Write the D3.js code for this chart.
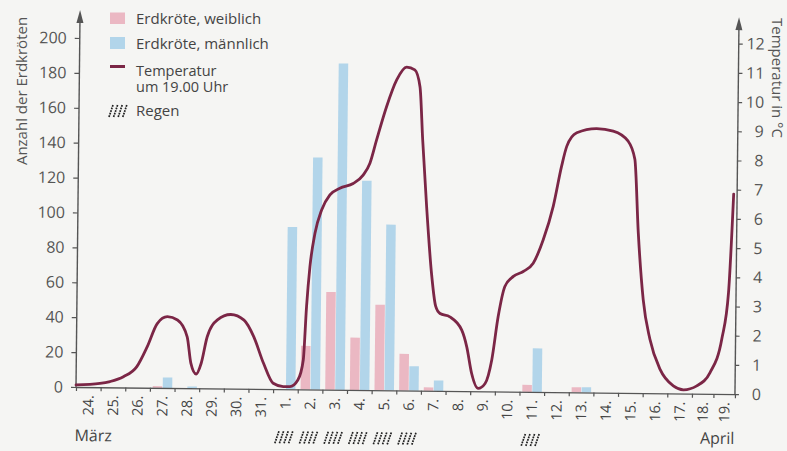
<!DOCTYPE html>
<html lang="de">
<head>
<meta charset="utf-8">
<title>Erdkröten und Temperatur</title>
<script src="https://cdn.jsdelivr.net/npm/d3@7"></script>
<style>
  body { margin: 0; background: #f5f5f3; }
  text { font-family: "Open Sans", "Noto Sans", sans-serif; fill: #444; }
</style>
</head>
<body>
<svg id="chart" width="787" height="451"></svg>
<script>
// days on the x axis (24.-31. März, 1.-19. April)
const days = ["24.","25.","26.","27.","28.","29.","30.","31.",
  "1.","2.","3.","4.","5.","6.","7.","8.","9.","10.","11.","12.","13.","14.","15.","16.","17.","18.","19."];

// number of toads per day
const female = [0,0,0,1,0,0,0,0, 0,25,56,30,49,21,2,0,0,0,4,0,3,0,0,0,0,0,0];
const male   = [0,0,0,6,1,0,0,0, 93,133,187,120,95,14,6,0,0,0,25,0,3,0,0,0,0,0,0];

// days with rain
const rainDays = ["1.","2.","3.","4.","5.","6.","11."];

// temperature curve, position in days from start of 24. and value in °C
const tempPos = [0, 0.97, 1.38, 1.92, 2.46, 2.87, 3.27, 3.68, 4.09, 4.49, 4.65, 4.87, 5.07, 5.3, 5.71,
  6.25, 6.79, 7.19, 7.6, 8.0, 8.41, 8.68, 9.0, 9.21, 9.32, 9.44, 9.63, 9.89, 10.22, 10.62, 11.16,
  11.56, 11.83, 12.09, 12.48, 12.88, 13.28, 13.61, 13.83, 13.96, 14.15, 14.38, 14.56, 14.74, 15.14,
  15.63, 15.84, 16.05, 16.32, 16.6, 16.86, 17.1, 17.36, 17.7, 18.1, 18.5, 18.9, 19.29, 19.61, 19.81,
  20.21, 21.02, 21.69, 22.3, 22.58, 22.75, 22.98, 23.27, 23.69, 24.24, 24.65, 25.22, 25.83, 26.36,
  26.65, 26.84];
const tempVal = [0.07, 0.13, 0.2, 0.37, 0.72, 1.4, 2.2, 2.44, 2.33, 1.76, 0.86, 0.49, 0.86, 1.76, 2.35,
  2.54, 2.35, 1.79, 0.88, 0.2, 0.09, 0.09, 0.32, 1.0, 2.83, 4.2, 5.35, 6.15, 6.67, 6.9, 7.07,
  7.36, 7.77, 8.57, 9.71, 10.63, 11.07, 10.98, 10.4, 8.6, 6.3, 4.0, 2.9, 2.65, 2.54,
  2.09, 1.52, 0.61, 0.1, 0.27, 1.08, 2.56, 3.6, 3.95, 4.12, 4.41, 5.22, 6.37, 7.74, 8.42,
  8.89, 9.04, 8.96, 8.62, 8.0, 5.5, 3.2, 1.85, 0.83, 0.26, 0.13, 0.27, 0.73, 1.88,
  3.48, 6.85];

const countTicks = [0,20,40,60,80,100,120,140,160,180,200];
const tempTicks = [0,1,2,3,4,5,6,7,8,9,10,11,12];

var svg = d3.select("#chart");
var axisColor = "#555";
var lineColor = "#7b2646";
var pink = "#ebb8c3", blue = "#b2d5ea";

svg.append("rect").attr("width", 787).attr("height", 451).attr("fill", "#f5f5f3");

// the scan is slightly tilted, so the whole plot is turned a little
var plot = svg.append("g").attr("transform", "rotate(0.62,76,387)");

// scales
var x = d3.scaleLinear().domain([0, 25, 27]).range([76, 692, 735]);
var yCount = d3.scaleLinear().domain([0, 200]).range([387, 38]);
var yTemp = d3.scaleLinear().domain([0, 12]).range([387, 36.5]);

// bars
var bw = 9.5;
plot.append("g").selectAll("rect").data(female).join("rect")
  .attr("x", (d, i) => x(i + 0.5) - bw)
  .attr("y", d => yCount(d))
  .attr("width", bw)
  .attr("height", d => yCount(0) - yCount(d))
  .attr("fill", pink);
plot.append("g").selectAll("rect").data(male).join("rect")
  .attr("x", (d, i) => x(i + 0.5) + 0.5)
  .attr("y", d => yCount(d))
  .attr("width", bw)
  .attr("height", d => yCount(0) - yCount(d))
  .attr("fill", blue);

// x axis
var xAxis = plot.append("g").attr("transform", "translate(0,387)")
  .call(d3.axisBottom(x).tickValues(d3.range(0, 28)).tickSize(4).tickSizeOuter(0).tickFormat(""));
xAxis.select(".domain").attr("stroke", axisColor).attr("stroke-width", 1.3);
xAxis.selectAll(".tick line").attr("stroke", axisColor).attr("stroke-width", 1.2);

plot.append("g").selectAll("text").data(days).join("text")
  .attr("transform", (d, i) => "translate(" + x(i + 0.5) + ",395) rotate(-90)")
  .attr("text-anchor", "end")
  .attr("dy", "0.36em")
  .style("font-size", "14.5px")
  .text(d => d);

plot.append("text").attr("x", 75).attr("y", 441).style("font-size", "16px").text("März");
plot.append("text").attr("x", 735).attr("y", 437).attr("text-anchor", "end").style("font-size", "16px").text("April");

// left axis
var left = plot.append("g").attr("transform", "translate(76,0)")
  .call(d3.axisLeft(yCount).tickValues(countTicks).tickSize(5).tickPadding(8).tickSizeOuter(0));
left.select(".domain").remove();
left.selectAll(".tick line").attr("stroke", axisColor).attr("stroke-width", 1.2);
left.selectAll(".tick text").style("font-size", "16px").style("fill", "#555");

// right axis
var right = plot.append("g").attr("transform", "translate(735,0)")
  .call(d3.axisRight(yTemp).tickValues(tempTicks).tickSize(4).tickSizeOuter(0));
right.select(".domain").remove();
right.selectAll(".tick line").attr("stroke", axisColor).attr("stroke-width", 1.2);
right.selectAll(".tick text").attr("x", 26).attr("text-anchor", "end")
  .style("font-size", "16px").style("fill", "#555");

// axis lines with arrow heads
[76, 735].forEach(function(ax) {
  plot.append("line").attr("x1", ax).attr("x2", ax).attr("y1", 387).attr("y2", 20)
    .attr("stroke", axisColor).attr("stroke-width", 1.4);
  plot.append("path").attr("d", "M" + (ax - 3.5) + ",23L" + ax + ",10L" + (ax + 3.5) + ",23Z")
    .attr("fill", axisColor);
});

// temperature line
var line = d3.line()
  .x((d, i) => x(tempPos[i]))
  .y(d => yTemp(d))
  .curve(d3.curveMonotoneX);
plot.append("path").datum(tempVal)
  .attr("d", line)
  .attr("fill", "none")
  .attr("stroke", lineColor)
  .attr("stroke-width", 2.8)
  .attr("stroke-linecap", "round");

// rain marks
function rainMark(g) {
  for (var j = 0; j < 4; j++) {
    g.append("line")
      .attr("x1", -9 + j * 4.6).attr("y1", 6)
      .attr("x2", -5 + j * 4.6).attr("y2", -6)
      .attr("stroke", "#222").attr("stroke-width", 1.7)
      .attr("stroke-dasharray", "1.8,0.9");
  }
}
rainDays.forEach(function(d) {
  var i = days.indexOf(d);
  var g = plot.append("g").attr("transform", "translate(" + (x(i + 0.5) - 1) + ",435)");
  rainMark(g);
});

// axis titles
svg.append("text")
  .attr("transform", "translate(22,91) rotate(-90)")
  .attr("text-anchor", "middle")
  .attr("dy", "0.35em")
  .style("font-size", "15px").style("fill", "#555")
  .text("Anzahl der Erdkröten");
svg.append("text")
  .attr("transform", "translate(777,78) rotate(90)")
  .attr("text-anchor", "middle")
  .attr("dy", "0.35em")
  .style("font-size", "15px").style("fill", "#555")
  .text("Temperatur in °C");

// legend
var legend = svg.append("g");
legend.append("rect").attr("x", 110).attr("y", 12.5).attr("width", 15).attr("height", 11.5).attr("fill", pink);
legend.append("text").attr("x", 136).attr("y", 24).style("font-size", "15px").text("Erdkröte, weiblich");
legend.append("rect").attr("x", 110).attr("y", 37).attr("width", 15).attr("height", 12).attr("fill", blue);
legend.append("text").attr("x", 136).attr("y", 49).style("font-size", "15px").text("Erdkröte, männlich");
legend.append("line").attr("x1", 110).attr("x2", 125).attr("y1", 66.5).attr("y2", 66.5)
  .attr("stroke", lineColor).attr("stroke-width", 3);
legend.append("text").attr("x", 136).attr("y", 75.5).style("font-size", "14.5px").text("Temperatur");
legend.append("text").attr("x", 136).attr("y", 92).style("font-size", "14.5px").text("um 19.00 Uhr");
rainMark(legend.append("g").attr("transform", "translate(118,111)"));
legend.append("text").attr("x", 136).attr("y", 116).style("font-size", "15px").text("Regen");
</script>
</body>
</html>
